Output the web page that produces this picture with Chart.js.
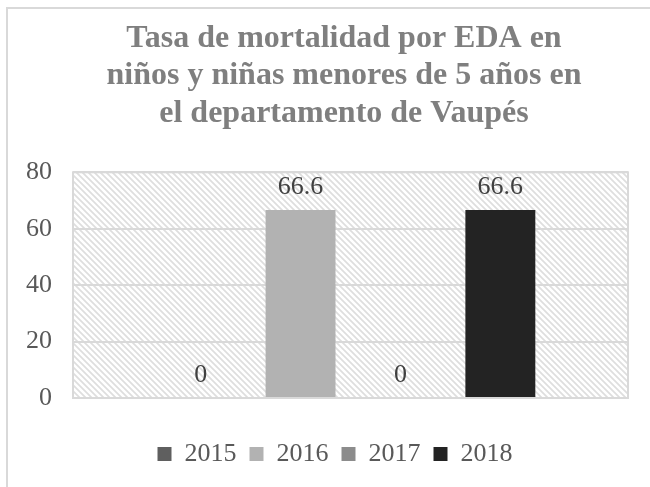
<!DOCTYPE html>
<html>
<head>
<meta charset="utf-8">
<script src="https://cdn.jsdelivr.net/npm/chart.js@4"></script>
<style>
  html, body { margin: 0; padding: 0; background: #fff; }
  #wrap { width: 650px; height: 487px; position: relative; }
</style>
</head>
<body>
<div id="wrap"><canvas id="myCanvas"></canvas></div>
<script>
const titleLines = ["Tasa de mortalidad por EDA en", "niños y niñas menores de 5 años en", "el departamento de Vaupés"];
const categories = [""];
const years = ["2015", "2016", "2017", "2018"];
const rates = [0, 66.6, 0, 66.6];
const barColors = ["#5f5f5f", "#b2b2b2", "#8c8c8c", "#232323"];
const yMin = 0;
const yMax = 80;
const yStep = 20;

const serif = "'Liberation Serif', 'Times New Roman', serif";

// diagonal hatch for the plot background
function makeHatch() {
  const size = 6;
  const tile = document.createElement("canvas");
  tile.width = size;
  tile.height = size;
  const t = tile.getContext("2d");
  t.fillStyle = "#ffffff";
  t.fillRect(0, 0, size, size);
  t.strokeStyle = "#dedede";
  t.lineWidth = 1.7;
  t.beginPath();
  t.moveTo(-1, -1); t.lineTo(size + 1, size + 1);
  t.moveTo(-1, size - 1); t.lineTo(1, size + 1);
  t.moveTo(size - 1, -1); t.lineTo(size + 1, 1);
  t.stroke();
  return t.createPattern(tile, "repeat");
}

const backdrop = {
  id: "backdrop",
  afterLayout(chart) {
    // title is centred over the plot, legend a bit left of it
    chart.titleBlock.left += 20;
    chart.titleBlock.right += 20;
    chart.legend.left += 11;
    chart.legend.right += 11;
  },
  beforeDraw(chart) {
    const ctx = chart.ctx;
    const a = chart.chartArea;
    ctx.save();
    ctx.fillStyle = "#d9d9d9";
    ctx.fillRect(6, 7, 2, chart.height);
    ctx.fillRect(6, 7, chart.width, 2);
    ctx.fillStyle = makeHatch();
    ctx.fillRect(a.left, a.top, a.right - a.left, a.bottom - a.top);
    ctx.restore();
  },
  afterDraw(chart) {
    const ctx = chart.ctx;
    const a = chart.chartArea;
    ctx.save();
    ctx.strokeStyle = "#d9d9d9";
    ctx.lineWidth = 2;
    ctx.strokeRect(a.left, a.top, a.right - a.left, a.bottom - a.top);
    // value labels above each bar
    ctx.font = "26px " + serif;
    ctx.fillStyle = "#404040";
    ctx.textAlign = "center";
    ctx.textBaseline = "middle";
    chart.data.datasets.forEach((ds, i) => {
      chart.getDatasetMeta(i).data.forEach((bar, j) => {
        ctx.fillText(String(ds.data[j]), bar.x, bar.y - 23);
      });
    });
    ctx.restore();
  }
};

new Chart(document.getElementById("myCanvas"), {
  type: "bar",
  data: {
    labels: categories,
    datasets: years.map((y, i) => ({
      label: y,
      data: [rates[i]],
      backgroundColor: barColors[i],
      borderWidth: 0
    }))
  },
  options: {
    responsive: true,
    maintainAspectRatio: false,
    animation: false,
    categoryPercentage: 0.72,
    barPercentage: 0.7,
    layout: { padding: { left: 20, right: 22, top: 0, bottom: 10 } },
    plugins: {
      tooltip: { enabled: false },
      title: {
        display: true,
        text: titleLines,
        color: "#7f7f7f",
        font: { family: serif, size: 32, weight: "bold", lineHeight: 1.17 },
        padding: { top: 20, bottom: 40 }
      },
      legend: {
        position: "bottom",
        labels: {
          color: "#595959",
          font: { family: serif, size: 26 },
          boxWidth: 14,
          boxHeight: 14,
          padding: 13
        }
      }
    },
    scales: {
      x: {
        grid: { display: false },
        border: { display: false },
        ticks: { display: false },
        afterFit(s) { s.height = 30; }
      },
      y: {
        min: yMin,
        max: yMax,
        afterFit(s) { s.width = 53; },
        grid: { color: "#d9d9d9", lineWidth: 2, drawTicks: false },
        border: { display: false },
        ticks: {
          stepSize: yStep,
          color: "#595959",
          font: { family: serif, size: 26 },
          padding: 21
        }
      }
    }
  },
  plugins: [backdrop]
});
</script>
</body>
</html>
